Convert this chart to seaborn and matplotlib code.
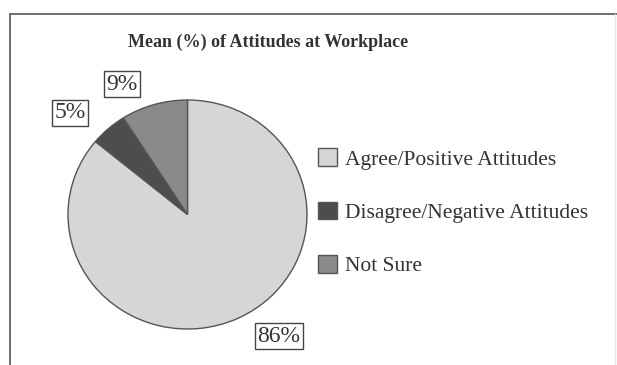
import matplotlib
matplotlib.use("Agg")
import matplotlib.pyplot as plt
import seaborn as sns
from matplotlib.lines import Line2D

categories = ["Agree/Positive Attitudes", "Disagree/Negative Attitudes", "Not Sure"]
values = [86, 5, 9]
value_labels = ["86%", "5%", "9%"]
title = "Mean (%) of Attitudes at Workplace"

sns.set_theme(style="white")
plt.rcParams["font.family"] = ["Liberation Serif", "DejaVu Serif"]

W, H = 617, 365
fig = plt.figure(figsize=(W / 100, H / 100), dpi=100)
fig.patch.set_facecolor("white")

def px(x0, y0, x1, y1):
    return [x0 / W, 1 - y1 / H, (x1 - x0) / W, (y1 - y0) / H]

# outer frame: strong left and top, faint right
fig.add_artist(Line2D([10 / W, 10 / W], [0, 1 - 14 / H], transform=fig.transFigure,
                      color="#6e6e6e", linewidth=1.4))
fig.add_artist(Line2D([10 / W, 1], [1 - 14 / H, 1 - 14 / H], transform=fig.transFigure,
                      color="#6e6e6e", linewidth=1.4))
fig.add_artist(Line2D([615 / W, 615 / W], [0, 1 - 14 / H], transform=fig.transFigure,
                      color="#e6e6e6", linewidth=1.0))

colors = ["#d6d6d6", "#4d4d4d", "#8a8a8a"]
ax = fig.add_axes(px(68, 100, 307, 329))
wedges, _ = ax.pie(values, colors=colors, startangle=90, counterclock=False,
                   wedgeprops=dict(edgecolor="#555555", linewidth=1.0))
ax.set_aspect("auto")
ax.set_xlim(-1, 1)
ax.set_ylim(-1, 1)
ax.axis("off")

fig.text(268 / W, 1 - 42 / H, title, ha="center", va="center",
         fontsize=13, fontweight="bold", color="#333333")

label_pos = [(279, 336), (70, 113), (122, 84)]
for (x, y), lab in zip(label_pos, value_labels):
    fig.text(x / W, 1 - y / H, lab, ha="center", va="center", fontsize=17,
             color="#333333",
             bbox=dict(boxstyle="square,pad=0.12", facecolor="white",
                       edgecolor="#444444", linewidth=1.0))

fig.legend(wedges, categories, loc="upper left",
           bbox_to_anchor=(318 / W, 1 - 148.5 / H), frameon=False,
           borderpad=0, borderaxespad=0,
           fontsize=15.5, handlelength=0.88, handleheight=0.88,
           labelspacing=1.49, handletextpad=0.38, labelcolor="#333333")

fig.savefig("out.png", dpi=100)
